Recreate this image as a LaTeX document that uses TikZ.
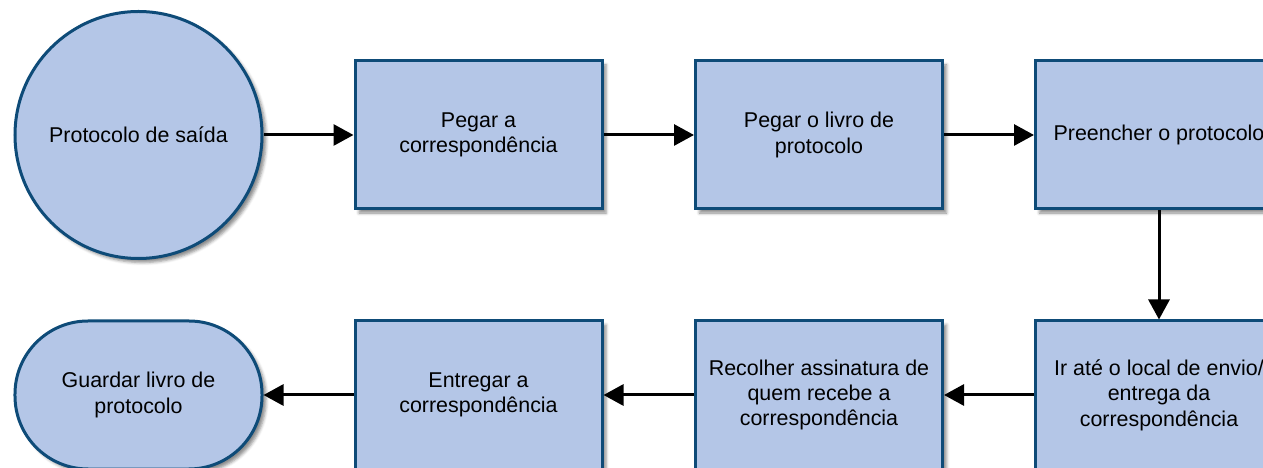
\documentclass[tikz,border=0pt]{standalone}
\usepackage{fontspec}
\setmainfont{Liberation Sans}
\usetikzlibrary{arrows.meta,shadows.blur}
\definecolor{boxfill}{HTML}{B4C6E7}
\definecolor{boxline}{HTML}{0E4B78}
\tikzset{
  base/.style={draw=boxline, fill=boxfill, line width=3bp, inner sep=0pt,
    align=center, font=\fontsize{21.5}{25.5}\selectfont,
    blur shadow={shadow xshift=4bp, shadow yshift=-4bp, shadow blur radius=3bp, shadow opacity=45}},
  procbox/.style={base, rectangle, minimum width=247bp, minimum height=148bp},
  startnode/.style={base, circle, minimum size=247bp},
  endnode/.style={base, rectangle, rounded corners=73bp, minimum width=247bp, minimum height=148bp},
  conn/.style={line width=3bp, -{Triangle[length=20bp,width=21bp]}}
}
\begin{document}
\begin{tikzpicture}[x=1bp,y=-1bp]
\useasboundingbox (0,0) rectangle (1263,468);
\clip (0,0) rectangle (1263,468);
\node[startnode] (s) at (138.5,135) {Protocolo de saída};
\node[procbox] (a) at (478.5,135) {Pegar a\\correspondência};
\node[procbox] (b) at (819,135) {Pegar o livro de\\protocolo};
\node[procbox] (c) at (1159,135) {Preencher o protocolo};
\node[procbox] (d) at (1159,395) {Ir até o local de envio/\\entrega da\\correspondência};
\node[procbox] (e) at (819,395) {Recolher assinatura de\\quem recebe a\\correspondência};
\node[procbox] (f) at (478.5,395) {Entregar a\\correspondência};
\node[endnode] (g) at (138.5,395) {Guardar livro de\\protocolo};
\draw[conn] (s) -- (a);
\draw[conn] (a) -- (b);
\draw[conn] (b) -- (c);
\draw[conn] (c) -- (d);
\draw[conn] (d) -- (e);
\draw[conn] (e) -- (f);
\draw[conn] (f) -- (g);
\end{tikzpicture}
\end{document}
